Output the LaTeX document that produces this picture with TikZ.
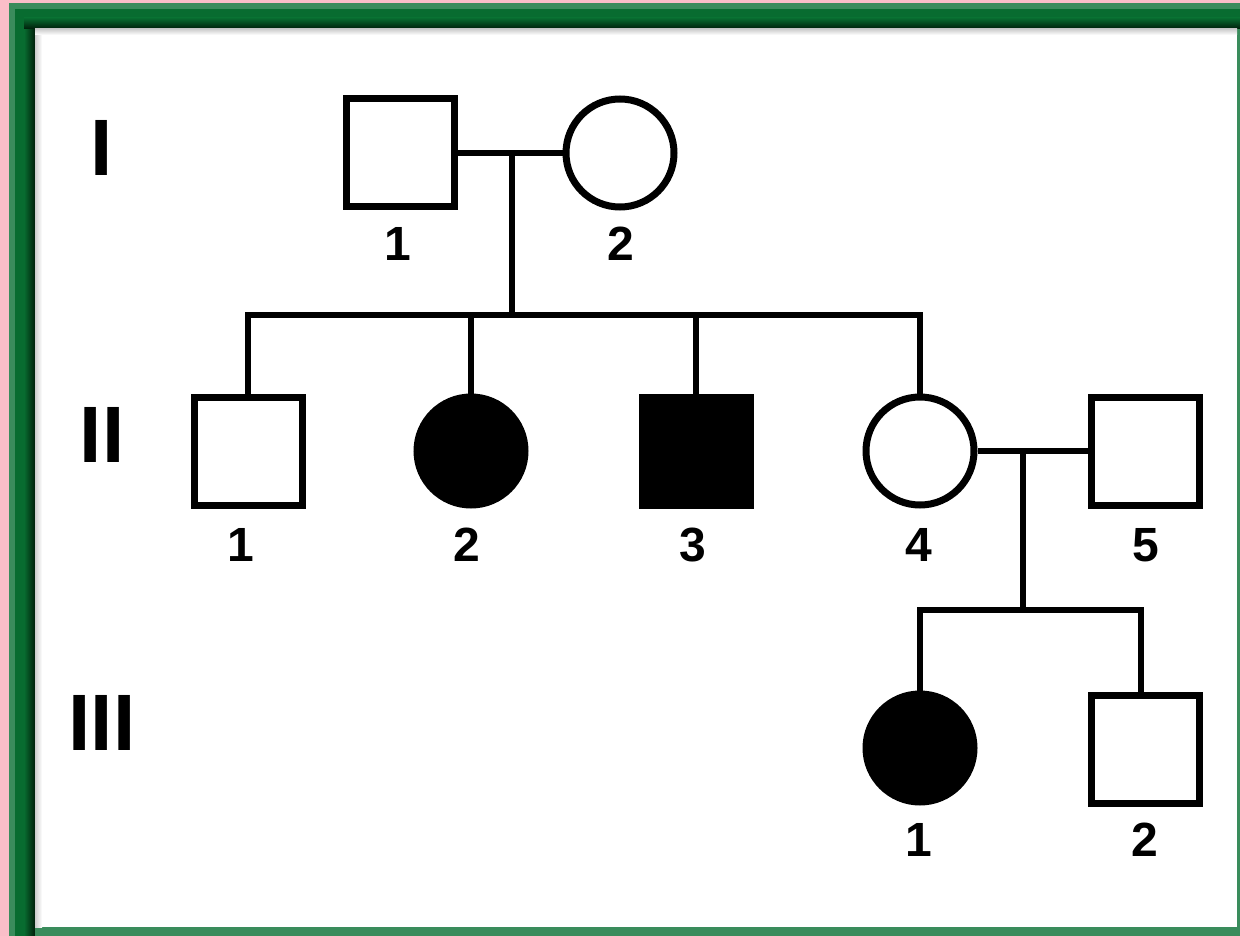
\documentclass[tikz,border=0pt]{standalone}
\usepackage{fontspec}
\setmainfont{Liberation Sans}
\begin{document}
\begin{tikzpicture}[x=1pt,y=-1pt,
  person/.style={draw=black,line width=7pt,inner sep=0pt,minimum size=108pt,fill=white},
  male/.style={person,rectangle},
  female/.style={person,circle},
  affected/.style={fill=black},
  link/.style={draw=black,line width=6.5pt,line join=miter},
  numlabel/.style={inner sep=0pt,font=\bfseries\fontsize{48}{48}\selectfont},
  genlabel/.style={inner sep=0pt,font=\bfseries\fontsize{80}{80}\selectfont}]
\definecolor{bgpink}{RGB}{250,190,200}
\definecolor{framegreen}{RGB}{8,108,48}
\definecolor{framelight}{RGB}{58,140,92}
\definecolor{frameshade}{RGB}{0,30,10}

% page, frame and inner panel
\useasboundingbox (0,0) rectangle (1240,936);
\fill[bgpink] (0,0) rectangle (1240,936);
\fill[framelight] (9,3) rectangle (1240,936);
\fill[framegreen] (15,9) rectangle (1240,936);
\shade[left color=framegreen,right color=frameshade] (24,18) rectangle (35,936);
\shade[top color=framegreen,bottom color=frameshade] (24,18) rectangle (1240,29);
\fill[framelight] (35,29) rectangle (1240,936);
\fill[white] (35,29) rectangle (1237,927);
\shade[left color=black!20,right color=white] (35,29) rectangle (42,927);
\shade[top color=black!20,bottom color=white] (35,29) rectangle (1237,35);

% generation labels
\node[genlabel] (gI)   at (102,148) {I};
\node[genlabel] (gII)  at (102,435) {II};
\node[genlabel] (gIII) at (102,723) {III};

% generation I
\node[male]   (I1) at (400,153) {};
\node[female] (I2) at (620,153) {};
\node[numlabel] (lI1) at (398,244) {1};
\node[numlabel] (lI2) at (621,244) {2};

% generation II
\node[male]            (II1) at (248,451) {};
\node[female,affected] (II2) at (471,451) {};
\node[male,affected]   (II3) at (696,451) {};
\node[female]          (II4) at (920,451) {};
\node[male]            (II5) at (1145,451) {};
\node[numlabel] (lII1) at (241,545) {1};
\node[numlabel] (lII2) at (467,545) {2};
\node[numlabel] (lII3) at (693,545) {3};
\node[numlabel] (lII4) at (919,545) {4};
\node[numlabel] (lII5) at (1146,545) {5};

% generation III
\node[female,affected] (III1) at (920,748) {};
\node[male]            (III2) at (1145,749) {};
\node[numlabel] (lIII1) at (919,840) {1};
\node[numlabel] (lIII2) at (1145,840) {2};

% mating and sibship lines
\coordinate (m1) at (512,153);
\coordinate (s1) at (512,315);
\coordinate (m2) at (1023,451);
\coordinate (s2) at (1023,610);

\draw[link] (I1.east) -- (I2.west);
\draw[link] (m1) -- (s1);
\draw[link] (II1.north) |- (s1) -| (II4.north);
\draw[link] (II2.north) -- (II2.north |- s1);
\draw[link] (II3.north) -- (II3.north |- s1);

\draw[link] (II4.east) -- (II5.west);
\draw[link] (m2) -- (s2);
\draw[link] (III1.north) |- (s2) -| ([xshift=-4pt]III2.north);
\end{tikzpicture}
\end{document}
